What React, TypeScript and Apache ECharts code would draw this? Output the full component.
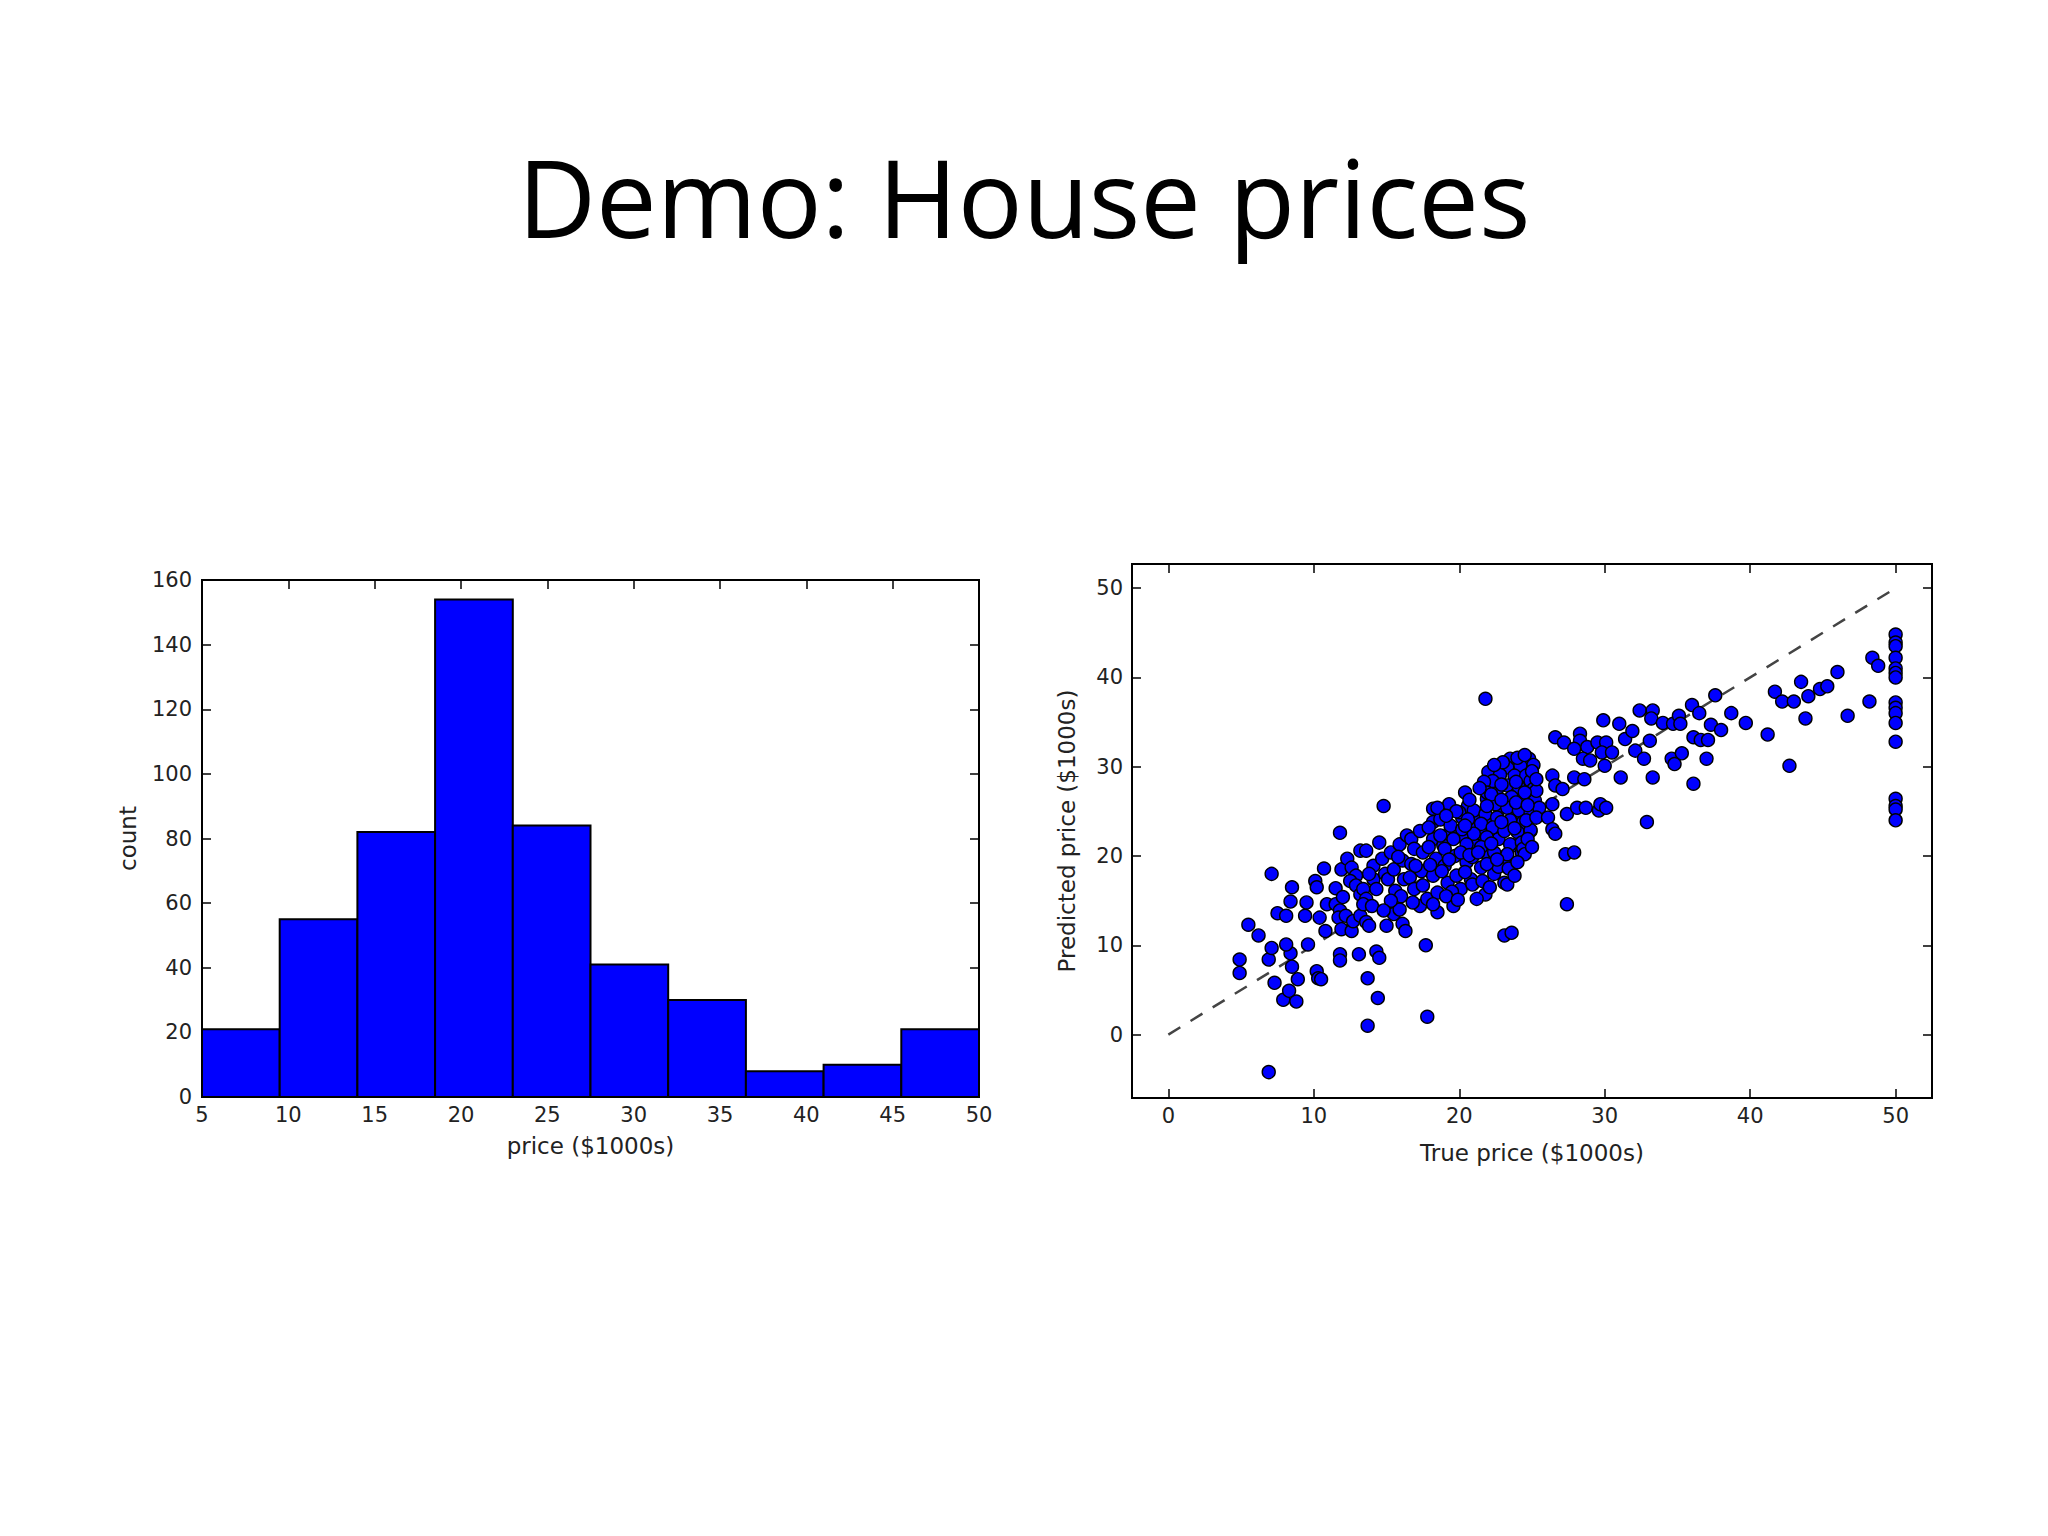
import React, { useEffect, useRef } from "react";
import * as echarts from "echarts";

const titleText = "Demo: House prices";

// Histogram data
const binEdges = [5, 9.5, 14, 18.5, 23, 27.5, 32, 36.5, 41, 45.5, 50];
const histCounts = [21, 55, 82, 154, 84, 41, 30, 8, 10, 21];
const histXTicks = [5, 10, 15, 20, 25, 30, 35, 40, 45, 50];

// Scatter: [true price, predicted price]
const pointsLow: number[][] = [
  [4.9, 8.4], [4.9, 6.9], [5.5, 12.3], [6.2, 11.1], [6.9, -4.2], [7.1, 18.0], [6.9, 8.4], [7.1, 9.7],
  [7.3, 5.8], [7.9, 3.9], [8.8, 3.7], [8.3, 4.9], [8.9, 6.2], [8.5, 7.6], [8.4, 9.1], [8.1, 10.1],
  [9.6, 10.1], [7.5, 13.6], [8.1, 13.3], [8.4, 14.9], [8.5, 16.5], [9.4, 13.3], [9.5, 14.8], [10.1, 17.2],
  [10.2, 16.5], [10.7, 18.6], [10.4, 13.1], [10.8, 11.6], [10.2, 7.1], [10.3, 6.3], [10.5, 6.2], [11.8, 22.6],
  [11.8, 9.0], [11.8, 8.3], [11.5, 16.4], [10.9, 14.6], [11.5, 14.6], [11.8, 13.9], [11.7, 13.1], [11.9, 11.8],
  [11.9, 18.5],
];
const pointsMidLow: number[][] = [
  [13.7, 1.0], [17.8, 2.0], [14.4, 4.1], [13.7, 6.3], [17.7, 10.0], [13.1, 9.0], [14.3, 9.3], [14.5, 8.6],
  [14.8, 25.6], [12.2, 13.3], [12.6, 11.6], [12.7, 12.7], [13.2, 13.3], [13.6, 12.6], [13.8, 12.2], [15.0, 12.2],
  [15.5, 13.5], [16.1, 12.4], [16.3, 11.6], [12.3, 19.7], [12.6, 18.7], [12.9, 17.8], [13.2, 20.6], [13.6, 20.6],
  [12.5, 17.2], [12.9, 16.7], [13.2, 15.7], [13.4, 16.3], [13.6, 15.2], [13.4, 14.6], [14.0, 14.4], [14.1, 18.9],
  [14.1, 17.4], [14.3, 16.3], [14.7, 19.7], [14.9, 18.0], [15.1, 17.4], [15.3, 20.4], [15.5, 18.5], [15.6, 16.1],
  [15.9, 21.3], [16.1, 19.5], [16.2, 17.4], [16.4, 22.3], [16.7, 21.9], [16.9, 20.8], [16.7, 19.1], [16.6, 17.6],
  [16.9, 16.3], [17.3, 22.8], [17.5, 20.4], [17.4, 18.3], [17.5, 16.7], [17.3, 14.4], [17.8, 15.2], [12.0, 15.4],
  [15.9, 14.0], [16.0, 15.5], [15.3, 15.0], [14.8, 13.9], [16.8, 14.8], [17.0, 18.9], [15.8, 19.9], [14.5, 21.5],
  [13.8, 18.0],
];
const pointsDense: number[][] = [
  [18.2, 25.3], [18.2, 23.8], [18.2, 21.9], [18.4, 19.7], [18.2, 17.8], [18.5, 15.9], [18.5, 13.7], [18.2, 14.6],
  [18.7, 24.1], [18.9, 21.2], [19.0, 18.9], [19.2, 17.0], [19.3, 25.8], [19.4, 22.8], [19.6, 14.4], [19.7, 20.0],
  [19.8, 17.8], [20.1, 16.3], [20.2, 24.3], [20.3, 22.1], [20.4, 27.1], [20.5, 19.3], [20.6, 25.6], [20.8, 17.4],
  [21.0, 23.4], [21.1, 21.2], [21.3, 24.5], [21.5, 18.7], [21.7, 22.3], [21.9, 26.4], [22.0, 20.0], [22.1, 24.1],
  [22.4, 18.0], [22.6, 27.5], [22.7, 21.9], [22.8, 25.3], [23.1, 19.7], [23.2, 23.4], [23.5, 26.4], [23.7, 21.2],
  [23.9, 24.9], [24.2, 27.9], [24.3, 20.4], [24.3, 22.6], [21.8, 15.7], [23.1, 17.0], [23.1, 11.1], [23.6, 11.4],
  [23.5, 30.9], [24.8, 30.9], [25.1, 30.2], [24.2, 30.1], [23.3, 29.9], [22.0, 29.4], [22.8, 29.1], [23.8, 29.0],
  [24.6, 29.0], [24.9, 28.4], [22.3, 28.4], [21.7, 28.3], [23.3, 27.9], [24.1, 27.7], [25.1, 27.5], [21.9, 27.1],
  [23.6, 26.6], [24.4, 26.4], [25.2, 26.2], [22.5, 25.8], [23.3, 25.4], [24.1, 25.1], [24.9, 24.9], [25.5, 25.4],
  [21.0, 25.1], [21.8, 24.7], [22.6, 24.3], [23.5, 24.0], [24.4, 23.8], [20.0, 24.9], [20.6, 24.1], [21.5, 23.6],
  [22.3, 23.2], [23.1, 22.8], [24.0, 22.7], [24.9, 22.8], [19.4, 23.4], [20.2, 23.0], [21.0, 22.5], [21.9, 22.1],
  [23.5, 21.3], [24.3, 21.5], [18.7, 22.3], [19.6, 21.9], [20.5, 21.3], [21.5, 21.0], [22.4, 20.4], [23.3, 20.2],
  [24.4, 20.8], [19.0, 20.8], [20.1, 20.4], [18.5, 25.4], [25.3, 27.3], [24.9, 22.9], [24.5, 20.2], [23.3, 16.8],
  [22.7, 18.8], [21.2, 15.2], [19.5, 16.0], [20.9, 19.9], [22.2, 26.9], [24.6, 24.0],
  [19.8, 25.0], [20.7, 26.3], [21.4, 27.6], [22.9, 28.0], [23.9, 28.3], [24.5, 27.1], [25.0, 29.5], [23.0, 30.5],
  [24.0, 31.0], [22.4, 30.2], [19.1, 15.5], [19.9, 15.1], [20.4, 18.2], [20.9, 16.8], [21.6, 17.2], [22.1, 16.5],
  [21.9, 19.1], [22.6, 19.6], [23.4, 18.6], [24.0, 19.3], [23.8, 17.8], [22.2, 21.4], [20.7, 20.1], [21.3, 20.4],
  [19.3, 19.6], [18.8, 18.3], [18.0, 19.0], [17.9, 21.0], [17.9, 23.2], [19.1, 24.5], [20.4, 23.4], [21.9, 25.6],
  [22.9, 26.3], [23.9, 26.0], [24.7, 25.7], [25.3, 28.6], [24.5, 31.3], [22.9, 23.8], [23.8, 23.1], [24.7, 21.9],
  [25.3, 24.3], [25.0, 21.0],
];
const pointsUpper: number[][] = [
  [21.8, 37.6], [26.6, 33.3], [27.2, 32.7], [28.3, 33.7], [28.3, 32.9], [27.9, 32.0], [28.8, 32.2], [28.5, 30.9],
  [29.0, 30.7], [29.5, 32.7], [29.9, 35.2], [30.1, 32.7], [29.8, 31.6], [30.0, 30.1], [30.5, 31.6], [31.0, 34.8],
  [31.4, 33.1], [31.9, 34.0], [32.1, 31.8], [32.4, 36.3], [32.7, 30.9], [33.1, 32.9], [33.3, 36.3], [33.2, 35.4],
  [33.3, 28.8], [31.1, 28.8], [32.9, 23.8], [26.4, 29.0], [26.6, 27.9], [27.1, 27.5], [27.9, 28.8], [28.6, 28.6],
  [26.4, 25.8], [26.1, 24.3], [26.4, 23.0], [26.6, 22.5], [27.4, 24.7], [28.1, 25.4], [28.7, 25.4], [29.6, 25.1],
  [29.7, 25.8], [30.1, 25.4], [27.3, 20.2], [27.9, 20.4], [27.4, 14.6],
];
const pointsHigh: number[][] = [
  [34.0, 34.9], [34.7, 34.8], [35.1, 35.7], [35.2, 34.8], [34.6, 30.9], [34.8, 30.3], [35.3, 31.5], [36.0, 36.9],
  [36.5, 36.0], [36.1, 33.3], [36.6, 33.0], [37.1, 33.0], [37.3, 34.7], [38.0, 34.1], [37.0, 30.9], [37.6, 38.0],
  [38.7, 36.0], [36.1, 28.1], [39.7, 34.9], [41.2, 33.6], [41.7, 38.4], [42.2, 37.3], [43.0, 37.3], [43.5, 39.5],
  [44.0, 37.9], [43.8, 35.4], [42.7, 30.1], [44.8, 38.7], [45.3, 39.0], [46.0, 40.6], [46.7, 35.7], [48.2, 37.3],
  [48.4, 42.2], [48.8, 41.3],
];
const pointsCapped: number[][] = [
  [50, 44.8], [50, 43.9], [50, 43.5], [50, 42.2], [50, 41.0], [50, 40.5], [50, 40.0], [50, 37.2],
  [50, 36.6], [50, 36.0], [50, 34.9], [50, 32.8], [50, 26.4], [50, 25.6], [50, 25.2], [50, 24.0],
];
const diagonal = [[0, 0], [50, 50]];
const scatterTicks = [0, 10, 20, 30, 40, 50];

const tickFont = { fontFamily: "DejaVu Sans", fontSize: 21, color: "#222" };
const nameFont = { fontFamily: "DejaVu Sans", fontSize: 23, color: "#222" };
const tickLine = { color: "#000", width: 1.5 };
const frameLine = { show: true, onZero: false, lineStyle: { color: "#000", width: 2 } };

export default function App() {
  const ref = useRef<HTMLDivElement>(null);
  useEffect(() => {
    if (!ref.current) return;
    const chart = echarts.init(ref.current, null, { renderer: "svg" });
    const histData = histCounts.map((c, i) => [binEdges[i], binEdges[i + 1], c]);
    const scatterData = [...pointsLow, ...pointsMidLow, ...pointsDense, ...pointsUpper, ...pointsHigh, ...pointsCapped];
    const option: any = {
      animation: false,
      backgroundColor: "#fff",
      title: {
        text: titleText,
        left: "center",
        top: 137,
        textStyle: { fontFamily: "Open Sans", fontSize: 108, fontWeight: "normal", color: "#000" },
      },
      grid: [
        { left: 202, top: 580, width: 777, height: 517, show: true, borderColor: "#000", borderWidth: 2, backgroundColor: "transparent" },
        { left: 1132, top: 564, width: 800, height: 534, show: true, borderColor: "#000", borderWidth: 2, backgroundColor: "transparent" },
      ],
      xAxis: [
        {
          gridIndex: 0, type: "value", min: 5, max: 50, interval: 5, position: "bottom",
          axisLine: frameLine,
          axisTick: { show: true, inside: true, length: 9, lineStyle: tickLine },
          axisLabel: { ...tickFont, margin: 7, customValues: histXTicks },
          splitLine: { show: false },
          name: "price ($1000s)", nameLocation: "middle", nameGap: 37, nameTextStyle: nameFont,
        },
        {
          gridIndex: 0, type: "value", min: 5, max: 50, interval: 5, position: "top",
          axisLine: frameLine,
          axisTick: { show: true, inside: true, length: 9, lineStyle: tickLine },
          axisLabel: { show: false }, splitLine: { show: false },
        },
        {
          gridIndex: 1, type: "value", min: -2.5, max: 52.5, position: "bottom",
          axisLine: frameLine,
          axisTick: { show: true, inside: true, length: 9, lineStyle: tickLine, customValues: scatterTicks },
          axisLabel: { ...tickFont, margin: 7, customValues: scatterTicks },
          splitLine: { show: false },
          name: "True price ($1000s)", nameLocation: "middle", nameGap: 43, nameTextStyle: nameFont,
        },
        {
          gridIndex: 1, type: "value", min: -2.5, max: 52.5, position: "top",
          axisLine: frameLine,
          axisTick: { show: true, inside: true, length: 9, lineStyle: tickLine, customValues: scatterTicks },
          axisLabel: { show: false }, splitLine: { show: false },
        },
      ],
      yAxis: [
        {
          gridIndex: 0, type: "value", min: 0, max: 160, interval: 20, position: "left",
          axisLine: frameLine,
          axisTick: { show: true, inside: true, length: 9, lineStyle: tickLine },
          axisLabel: { ...tickFont, margin: 10 },
          splitLine: { show: false },
          name: "count", nameLocation: "middle", nameGap: 63, nameRotate: 90, nameTextStyle: nameFont,
        },
        {
          gridIndex: 0, type: "value", min: 0, max: 160, interval: 20, position: "right",
          axisLine: frameLine,
          axisTick: { show: true, inside: true, length: 9, lineStyle: tickLine },
          axisLabel: { show: false }, splitLine: { show: false },
        },
        {
          gridIndex: 1, type: "value", min: -7.1, max: 52.7, position: "left",
          axisLine: frameLine,
          axisTick: { show: true, inside: true, length: 9, lineStyle: tickLine, customValues: scatterTicks },
          axisLabel: { ...tickFont, margin: 9, customValues: scatterTicks },
          splitLine: { show: false },
          name: "Predicted price ($1000s)", nameLocation: "middle", nameGap: 54, nameRotate: 90, nameTextStyle: nameFont,
        },
        {
          gridIndex: 1, type: "value", min: -7.1, max: 52.7, position: "right",
          axisLine: frameLine,
          axisTick: { show: true, inside: true, length: 9, lineStyle: tickLine, customValues: scatterTicks },
          axisLabel: { show: false }, splitLine: { show: false },
        },
      ],
      series: [
        {
          type: "custom",
          xAxisIndex: 0,
          yAxisIndex: 0,
          data: histData,
          encode: { x: [0, 1], y: 2 },
          renderItem: (params: any, api: any) => {
            const p0 = api.coord([api.value(0), api.value(2)]);
            const p1 = api.coord([api.value(1), 0]);
            return {
              type: "rect",
              shape: { x: p0[0], y: p0[1], width: p1[0] - p0[0], height: p1[1] - p0[1] },
              style: { fill: "#0000ff", stroke: "#000", lineWidth: 2 },
            };
          },
        },
        {
          type: "line",
          xAxisIndex: 2,
          yAxisIndex: 2,
          data: diagonal,
          symbol: "none",
          z: 1,
          lineStyle: { color: "#444", width: 2.5, type: [14, 12] },
        },
        {
          type: "scatter",
          xAxisIndex: 2,
          yAxisIndex: 2,
          data: scatterData,
          symbolSize: 13,
          z: 3,
          itemStyle: { color: "#0000ff", borderColor: "#000", borderWidth: 1.4, opacity: 1 },
        },
      ],
    };
    chart.setOption(option);
    return () => chart.dispose();
  }, []);
  return (
    <div
      ref={ref}
      style={{ position: "fixed", left: 0, top: 0, width: 2048, height: 1536, background: "#fff" }}
    />
  );
}
